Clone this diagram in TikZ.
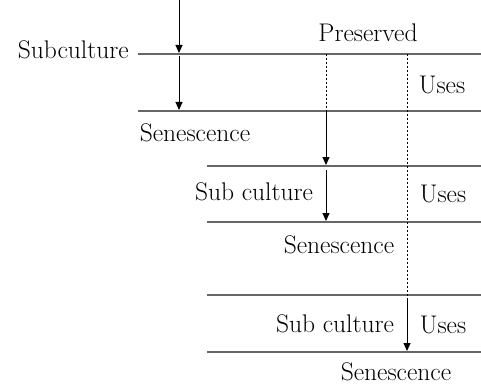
\documentclass[tikz,border=0pt]{standalone}
\usetikzlibrary{arrows.meta}
\begin{document}
\begin{tikzpicture}[x=1pt, y=-1pt,
    level/.style={line width=1.1pt, color=level-gray},
    flow/.style={line width=1pt, -{Triangle[length=8pt,width=7pt]}},
    dots/.style={line width=0.8pt, dash pattern=on 2pt off 2pt},
    lbl/.style={font=\fontsize{25.5}{30}\selectfont, inner sep=0pt, anchor=base}]
    \definecolor{level-gray}{rgb}{0.4,0.4,0.4}
    \useasboundingbox (0,0) rectangle (481,385);
    \coordinate (L1a) at (138,54);  \coordinate (L1b) at (481,54);
    \coordinate (L2a) at (138,111); \coordinate (L2b) at (481,111);
    \coordinate (L3a) at (207,166); \coordinate (L3b) at (481,166);
    \coordinate (L4a) at (207,222); \coordinate (L4b) at (481,222);
    \coordinate (L5a) at (207,295); \coordinate (L5b) at (481,295);
    \coordinate (L6a) at (207,352); \coordinate (L6b) at (481,352);
    \draw[level] (L1a) -- (L1b);
    \draw[level] (L2a) -- (L2b);
    \draw[level] (L3a) -- (L3b);
    \draw[level] (L4a) -- (L4b);
    \draw[level] (L5a) -- (L5b);
    \draw[level] (L6a) -- (L6b);
    \node[lbl, anchor=base east] (sub-a) at (129,59) {Subculture};
    \node[lbl] (preserved) at (368,42) {Preserved};
    \node[lbl] (uses-a) at (442,93) {Uses};
    \node[lbl] (sen-a) at (195,141) {Senescence};
    \node[lbl] (sub-b) at (254,200) {Sub culture};
    \node[lbl] (uses-b) at (443,202) {Uses};
    \node[lbl] (sen-b) at (339,253) {Senescence};
    \node[lbl] (sub-c) at (335,332) {Sub culture};
    \node[lbl] (uses-c) at (443,333) {Uses};
    \node[lbl] (sen-c) at (396,380) {Senescence};
    \coordinate (top) at (179,0);
    \coordinate (s1) at (179,53);
    \coordinate (s2) at (179,56);
    \coordinate (s3) at (179,110);
    \coordinate (p1) at (326,54);
    \coordinate (p2) at (326,112);
    \coordinate (p3) at (326,165);
    \coordinate (p4) at (326,170);
    \coordinate (p5) at (326,221);
    \coordinate (q1) at (407,54);
    \coordinate (q2) at (407,298);
    \coordinate (q3) at (407,351);
    \draw[flow] (top) -- (s1);
    \draw[flow] (s2) -- (s3);
    \draw[dots] (p1) -- (p2);
    \draw[flow] (p2) -- (p3);
    \draw[flow] (p4) -- (p5);
    \draw[dots] (q1) -- (q2);
    \draw[flow] (q2) -- (q3);
  \end{tikzpicture}
\end{document}
